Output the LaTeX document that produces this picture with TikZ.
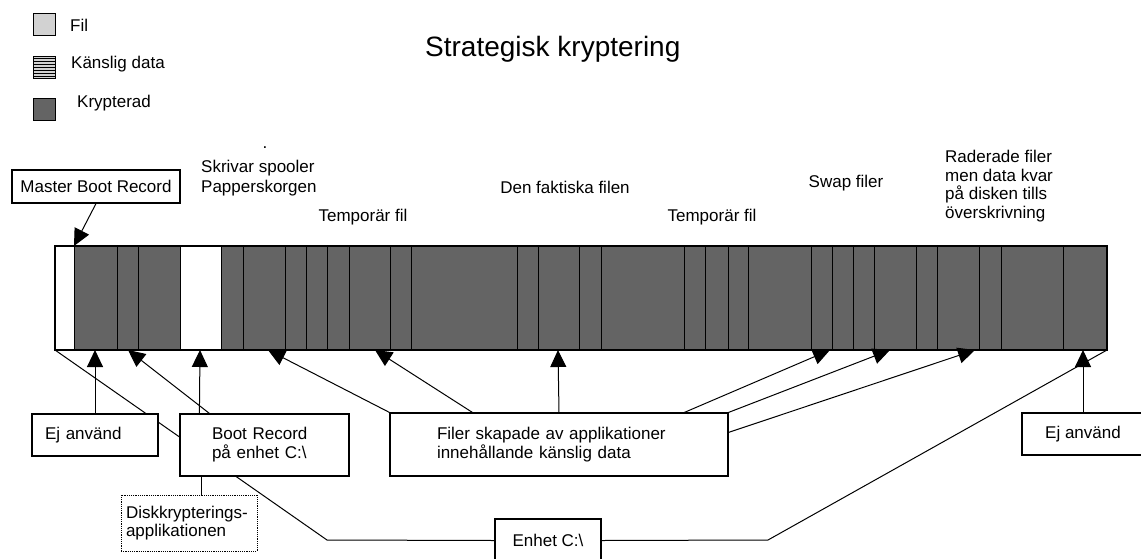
\documentclass[tikz,border=0pt]{standalone}
\usepackage{fontspec}
\setmainfont{Liberation Sans}
\usetikzlibrary{arrows.meta,backgrounds}
\definecolor{cryptgray}{RGB}{100,100,100}
\definecolor{filegray}{RGB}{210,210,210}
\tikzstyle{Box}=[rectangle, draw=black, fill=white, line width=1.2pt, inner sep=0pt, font=\fontsize{17}{19}\selectfont]
\tikzstyle{Label}=[inner sep=0pt, font=\fontsize{17}{18.5}\selectfont]
\tikzstyle{Arrow}=[line width=1pt, -{Triangle[length=17pt,width=16pt]}]

\begin{document}
\begin{tikzpicture}[x=1pt, y=-1pt]
    \useasboundingbox (0,0) rectangle (1141,558);
    % legend
    \draw[fill=filegray, line width=1pt] (33,13) rectangle (55,35);
    \fill[filegray] (33,56) rectangle (55,78);
    \foreach \y in {58,61,...,76} \draw[line width=0.8pt] (33,\y) -- (55,\y);
    \draw[line width=1pt] (33,56) rectangle (55,78);
    \draw[fill=cryptgray, line width=1pt] (33,98) rectangle (55,120);
    \path (70,25) node[Label, anchor=west] (lfile) {Fil}
    (71,64) node[Label, anchor=west] (lsens) {Känslig data}
    (77,103) node[Label, anchor=west] (lcrypt) {Krypterad};
    \path (425,56) node[inner sep=0pt, anchor=base west, font=\fontsize{28}{30}\selectfont] (title) {Strategisk kryptering};

    % the disk
    \fill[cryptgray] (55,246) rectangle (1107,350);
    \fill[white] (55,246) rectangle (74,350) (180,246) rectangle (221,350);
    \foreach \x in {74,117,138,180,221,243,285,306,327,349,390,411,517,538,579,601,684,705,728,748,811,832,853,874,916,937,979,1001,1063}
        \draw[line width=0.6pt] (\x,246) -- (\x,350);
    \draw[line width=1.2pt] (55,246) rectangle (1107,350);
    \coordinate (diskBL) at (55,350);
    \coordinate (diskBR) at (1107,350);
    \coordinate (mbrT) at (74,246);
    \foreach \n/\x in {bootT/200, bootRecT/128, tmpAT/268, tmpBT/375, realT/558, swapAT/830, swapBT/890, delT/975}
        \coordinate (\n) at (\x,350);

    % labels above the disk
    \path (265,148) node[Label, anchor=base] (dot) {.}
    (201,178) node[Label, anchor=west, align=left, font=\fontsize{17}{20}\selectfont] (spool) {Skrivar spooler\\Papperskorgen}
    (363,217) node[Label] (tmpA) {Temporär fil}
    (565,187) node[Label] (real) {Den faktiska filen}
    (712,217) node[Label] (tmpB) {Temporär fil}
    (846,183) node[Label] (swap) {Swap filer}
    (945,186) node[Label, anchor=west, align=left] (deleted) {Raderade filer\\men data kvar\\på disken tills\\överskrivning};

    % boxes
    \path (96,186.5) node[Box, minimum width=168pt, minimum height=33pt] (mbr) {Master Boot Record}
    (95,435) node[Box, minimum width=126pt, minimum height=42pt, inner xsep=13pt, text width=100pt, align=left] (unusedL) {Ej använd}
    (264.5,445) node[Box, minimum width=169pt, minimum height=62pt, inner xsep=32pt, text width=105pt, align=left] (boot) {Boot Record\\på enhet C:\textbackslash}
    (559,444.5) node[Box, minimum width=338pt, minimum height=63pt, inner xsep=47pt, text width=244pt, align=left] (apps) {Filer skapade av applikationer\\ innehållande känslig data}
    (189,523) node[Box, densely dotted, line width=1pt, minimum width=136pt, minimum height=56pt, inner xsep=5pt, text width=126pt, align=left, font=\fontsize{17}{18}\selectfont] (crypto) {Diskkrypterings-\\applikationen}
    (548,540.5) node[Box, minimum width=106pt, minimum height=43pt] (drive) {Enhet C:\textbackslash}
    (1083,434) node[Box, minimum width=122pt, minimum height=42pt] (unusedR) {Ej använd};

    % connectors
    \draw[Arrow] (mbr.south) -- (mbrT);
    \draw[Arrow] (unusedL.north) -- (unusedL.north |- diskBL);
    \draw[Arrow] ([xshift=20pt]boot.north west) -- (bootT);
    \draw[Arrow] ([xshift=30pt]boot.north west) -- (bootRecT);
    \draw[line width=1pt] ([xshift=12pt]crypto.north) -- ([xshift=12pt]crypto.north |- boot.south);
    \draw[Arrow] (apps.north west) -- (tmpAT);
    \draw[Arrow] ([xshift=83pt]apps.north west) -- (tmpBT);
    \draw[Arrow] (apps.north) -- (realT);
    \draw[Arrow] ([xshift=295pt]apps.north west) -- (swapAT);
    \draw[Arrow] (apps.north east) -- (swapBT);
    \draw[Arrow] ([yshift=-20pt]apps.north east) -- (delT);
    \draw[Arrow] (unusedR.north) -- (unusedR.north |- diskBR);
    \begin{scope}[on background layer]
        \draw[line width=1pt] (diskBL) -- (327,540) -- (drive.west);
        \draw[line width=1pt] (drive.east) -- (768,540) -- (diskBR);
    \end{scope}
\end{tikzpicture}
\end{document}
